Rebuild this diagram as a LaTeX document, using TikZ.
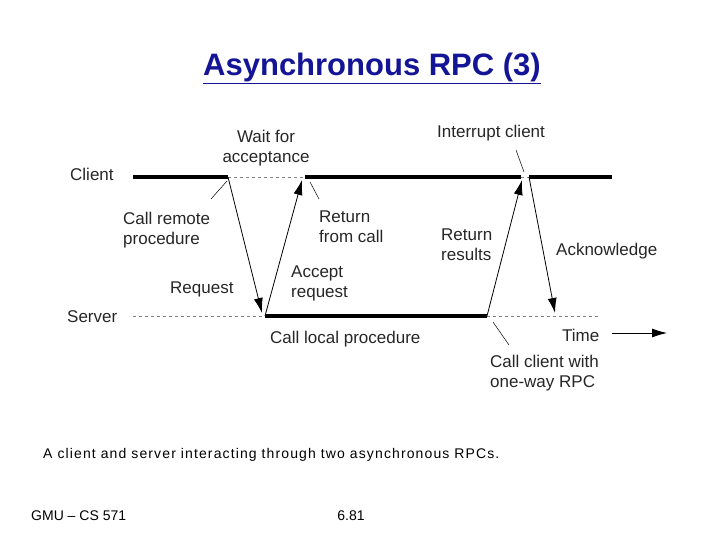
\documentclass[tikz,border=0pt]{standalone}
\usepackage{fontspec}
\setmainfont{Liberation Sans}
\usetikzlibrary{arrows.meta}
\definecolor{titleblue}{RGB}{20,20,150}
\begin{document}
\begin{tikzpicture}[x=1pt,y=-1pt,
  lbl/.style={anchor=west,align=left,font=\fontsize{17}{20}\selectfont,text=black!85,inner sep=0pt},
  thick line/.style={line width=3.5pt},
  dash line/.style={dashed,gray,line width=0.5pt},
  msg/.style={line width=0.8pt,-{Latex[length=15pt,width=9pt]}},
  lead/.style={line width=0.5pt}]
\useasboundingbox (0,0) rectangle (720,540);
\node[font=\bfseries\fontsize{31}{34}\selectfont,text=titleblue] (title) at (372,68) {\underline{Asynchronous RPC (3)}};
% timelines
\coordinate (c0) at (133,177); \coordinate (c1) at (228,177); \coordinate (c2) at (305,177);
\coordinate (c3) at (521,177); \coordinate (c4) at (529,177); \coordinate (c5) at (612,177);
\coordinate (s0) at (133,316); \coordinate (s1) at (265,316); \coordinate (s2) at (487,316);
\coordinate (s3) at (600,316);
\draw[thick line] (c0) -- (c1);
\draw[dash line] (c1) -- (c2);
\draw[thick line] (c2) -- (c3);
\draw[dash line] (c3) -- (c4);
\draw[thick line] (c4) -- (c5);
\draw[dash line] (s0) -- (s1);
\draw[thick line] (s1) -- (s2);
\draw[dash line] (s2) -- (s3);
% messages
\coordinate (r1) at (262,313); \coordinate (a1) at (302,180);
\coordinate (r2) at (522,180); \coordinate (k2) at (555,313);
\draw[msg] (c1) -- (r1);
\draw[msg] (s1) -- (a1);
\draw[msg] (s2) -- (r2);
\draw[msg] (c4) -- (k2);
% leaders
\draw[lead] (227,181) -- (211,199);
\draw[lead] (310,182) -- (319,199);
\draw[lead] (516,150) -- (524,172);
\draw[lead] (493,322) -- (509,345);
% labels
\node[lbl] (client) at (70,174) {Client};
\node[lbl] (server) at (67,317) {Server};
\node[lbl,align=center,anchor=center] (wait) at (266,148) {Wait for\\acceptance};
\node[lbl] (intr) at (437,133) {Interrupt client};
\node[lbl] (crp) at (123,230) {Call remote\\procedure};
\node[lbl] (rfc) at (319,227) {Return\\from call};
\node[lbl] (rr) at (441,245) {Return\\results};
\node[lbl] (ack) at (556,251) {Acknowledge};
\node[lbl] (acc) at (291,283) {Accept\\request};
\node[lbl] (req) at (170,289) {Request};
\node[lbl] (clp) at (270,339) {Call local procedure};
\node[lbl] (time) at (562,335) {Time};
\node[lbl] (cc) at (490,373) {Call client with\\one-way RPC};
\coordinate (t0) at (612,333); \coordinate (t1) at (667,333);
\draw[msg] (t0) -- (t1);
\node[font=\fontsize{14}{16}\selectfont\addfontfeature{LetterSpace=8},anchor=west,inner sep=0pt] (cap) at (43,455) {A client and server interacting through two asynchronous RPCs.};
\node[font=\fontsize{14}{16}\selectfont,anchor=west,inner sep=0pt] (f1) at (31,516) {GMU -- CS 571};
\node[font=\fontsize{14}{16}\selectfont,inner sep=0pt] (f2) at (351,516) {6.81};
\end{tikzpicture}
\end{document}
